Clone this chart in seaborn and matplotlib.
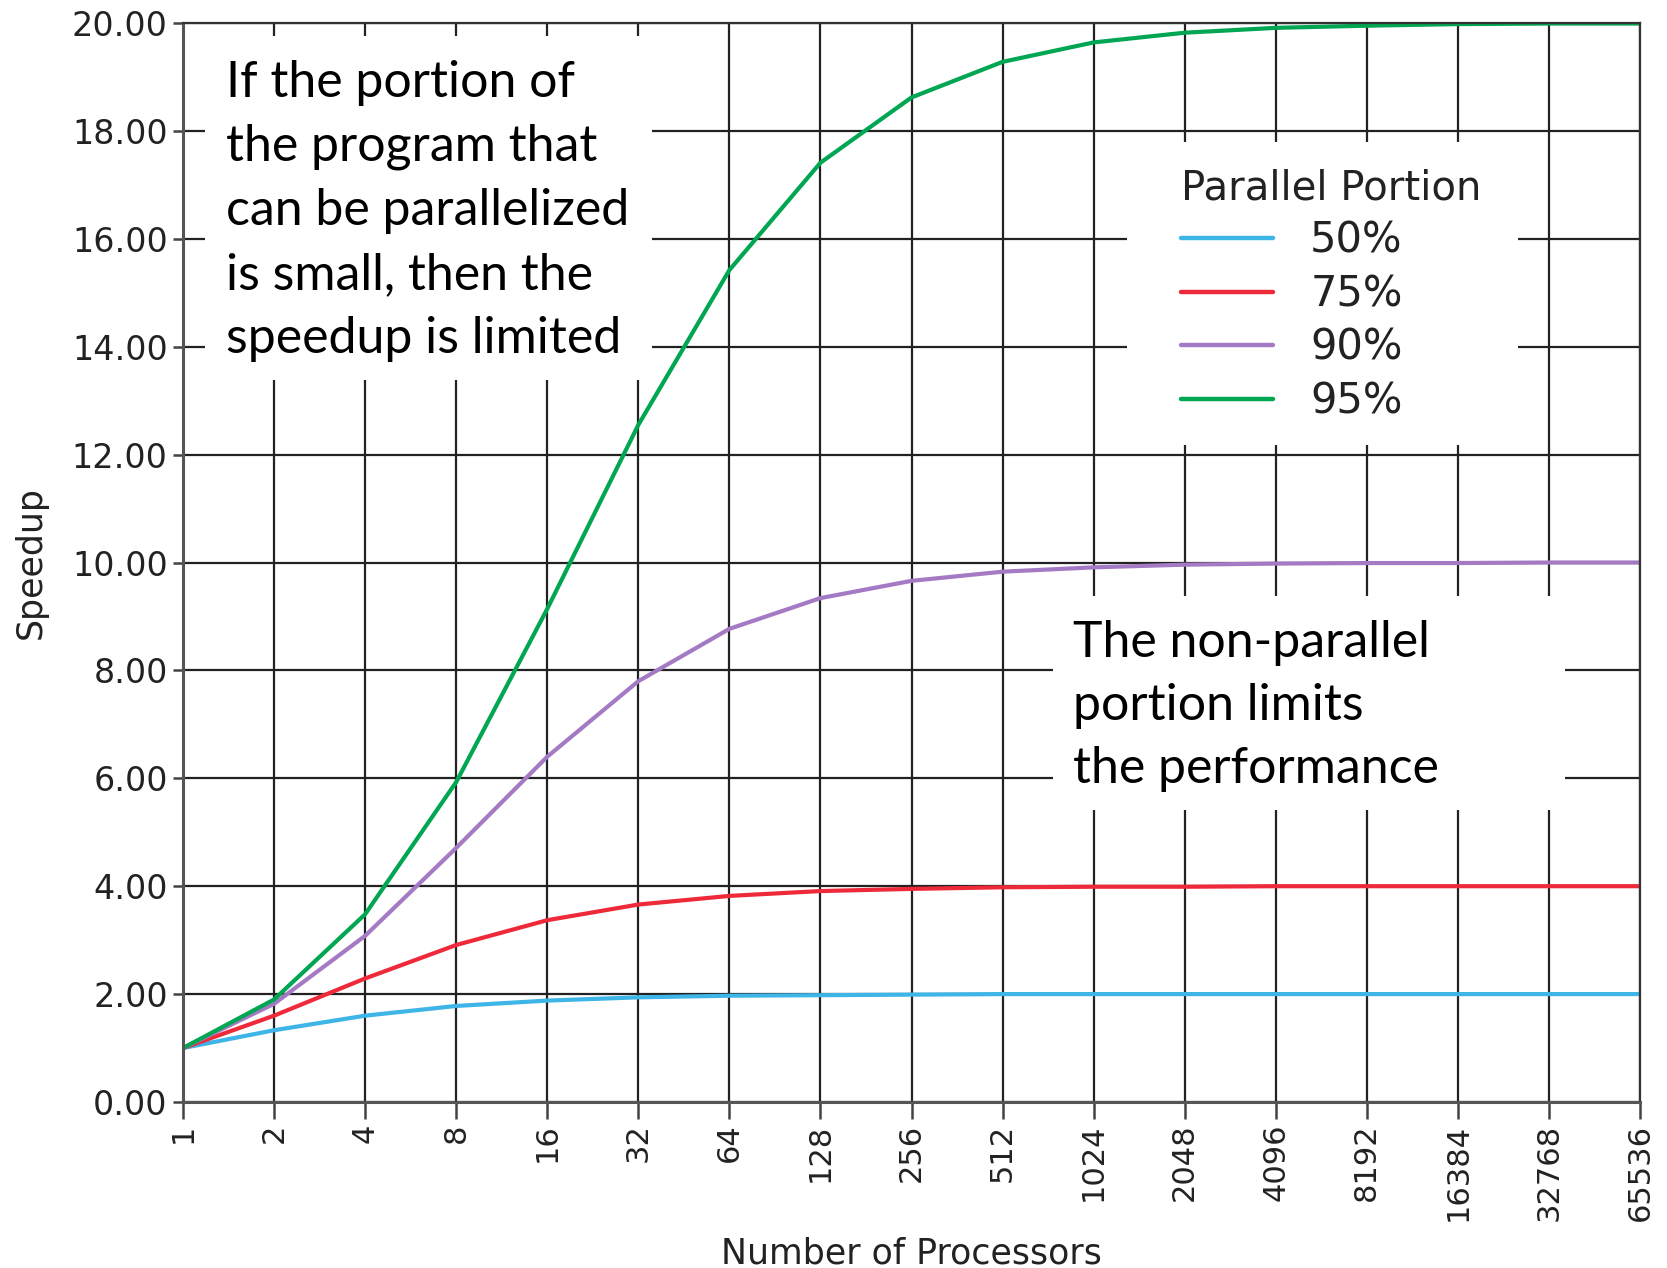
import matplotlib
matplotlib.use("Agg")
import matplotlib.pyplot as plt
import pandas as pd
import seaborn as sns
from matplotlib.patches import Rectangle
from matplotlib.ticker import FuncFormatter

# ---------------- data ----------------
processors = [1, 2, 4, 8, 16, 32, 64, 128, 256, 512, 1024, 2048, 4096,
              8192, 16384, 32768, 65536]
portion_labels = ["50%", "75%", "90%", "95%"]
speedup_50 = [1.00, 1.33, 1.60, 1.78, 1.88, 1.94, 1.97, 1.98, 1.99, 2.00,
              2.00, 2.00, 2.00, 2.00, 2.00, 2.00, 2.00]
speedup_75 = [1.00, 1.60, 2.29, 2.91, 3.37, 3.66, 3.82, 3.91, 3.95, 3.98,
              3.99, 3.99, 4.00, 4.00, 4.00, 4.00, 4.00]
speedup_90 = [1.00, 1.82, 3.08, 4.71, 6.40, 7.80, 8.77, 9.34, 9.66, 9.83,
              9.91, 9.96, 9.98, 9.99, 9.99, 10.00, 10.00]
speedup_95 = [1.00, 1.90, 3.48, 5.93, 9.14, 12.55, 15.42, 17.41, 18.62,
              19.28, 19.64, 19.82, 19.91, 19.95, 19.98, 19.99, 19.99]
y_ticks = [0, 2, 4, 6, 8, 10, 12, 14, 16, 18, 20]
line_colors = ["#3db5e6", "#ee2a3a", "#a57ac4", "#00a651"]
note_left = ["If the portion of", "the program that", "can be parallelized",
             "is small, then the", "speedup is limited"]
note_right = ["The non-parallel", "portion limits", "the performance"]

series = [speedup_50, speedup_75, speedup_90, speedup_95]
df = pd.DataFrame({
    "Number of Processors": processors * len(portion_labels),
    "Speedup": [v for s in series for v in s],
    "Parallel Portion": [lab for lab in portion_labels for _ in processors],
})

# ---------------- figure ----------------
W, H = 1667, 1268
sns.set_style("white")
plt.rcParams["font.family"] = ["DejaVu Sans"]
fig = plt.figure(figsize=(W / 100, H / 100), dpi=100)


def fx(px):
    return px / W


def fy(py):
    return 1 - py / H


AX_L, AX_R, AX_T, AX_B = 183, 1640, 23, 1102
ax = fig.add_axes([fx(AX_L), fy(AX_B), (AX_R - AX_L) / W, (AX_B - AX_T) / H])

sns.lineplot(data=df, x="Number of Processors", y="Speedup",
             hue="Parallel Portion", hue_order=portion_labels,
             palette=line_colors, linewidth=3.0, ax=ax, zorder=2)

ax.set_xscale("log", base=2)
ax.set_xticks(processors)
ax.set_xticklabels([str(p) for p in processors], rotation=90)
ax.minorticks_off()
ax.set_yticks(y_ticks)
ax.yaxis.set_major_formatter(FuncFormatter(lambda v, p: f"{v:.2f}"))
ax.set_xlim(processors[0], processors[-1])
ax.set_ylim(0, 20)

ax.grid(True, color="#222222", linewidth=1.6)
ax.set_axisbelow(True)
for s in ax.spines.values():
    s.set_color("#333333")
    s.set_linewidth(1.6)
ax.spines["left"].set_color("#555555")
ax.spines["left"].set_linewidth(2.2)
ax.spines["bottom"].set_color("#555555")
ax.spines["bottom"].set_linewidth(2.2)

ax.tick_params(axis="y", length=7.5, width=1.8, pad=3.5, labelsize=24,
               color="#444444", labelcolor="#222222", left=True)
ax.tick_params(axis="x", length=12, width=1.8, pad=3.5, labelsize=22,
               color="#444444", labelcolor="#222222", bottom=True)

ax.set_xlabel("Number of Processors", fontsize=25, color="#222222")
ax.set_ylabel("Speedup", fontsize=25, color="#222222")
axw, axh = AX_R - AX_L, AX_B - AX_T
ax.xaxis.set_label_coords(0.5, -(1237 - AX_B) / axh)
ax.yaxis.set_label_coords(-(AX_L - 48) / axw, 0.5)

# white boxes behind notes and legend
for (x0, y0, x1, y1) in [(205, 36, 652, 380), (1053, 596, 1565, 810),
                         (1127, 142, 1518, 445)]:
    ax.add_artist(Rectangle((fx(x0), fy(y1)), (x1 - x0) / W, (y1 - y0) / H,
                            transform=fig.transFigure, facecolor="white",
                            edgecolor="none", zorder=1))

sns.move_legend(ax, "upper left", bbox_to_anchor=(fx(1181), fy(168)),
                bbox_transform=fig.transFigure, frameon=False,
                title="Parallel Portion", fontsize=30, title_fontsize=29,
                borderpad=0, borderaxespad=0, handlelength=2.2,
                handletextpad=0.9, labelspacing=0.28, alignment="left")
leg = ax.get_legend()
for ln in leg.get_lines():
    ln.set_linewidth(3.2)
for t in leg.get_texts():
    t.set_color("#222222")
leg.get_title().set_color("#222222")

# notes
for i, line in enumerate(note_left):
    fig.text(fx(226), fy(97 + 64 * i), line, fontsize=36, family="Lato",
             ha="left", va="baseline", color="black", zorder=5)
for i, line in enumerate(note_right):
    fig.text(fx(1073), fy(657 + 63 * i), line, fontsize=36, family="Lato",
             ha="left", va="baseline", color="black", zorder=5)

fig.savefig("out.png", dpi=100)
